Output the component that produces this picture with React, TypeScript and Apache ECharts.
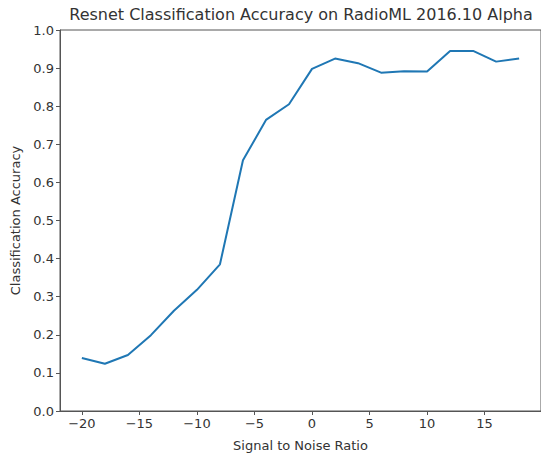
import React, { useEffect, useRef } from "react";
import * as echarts from "echarts";

const snr = [-20, -18, -16, -14, -12, -10, -8, -6, -4, -2, 0, 2, 4, 6, 8, 10, 12, 14, 16, 18];
const accuracy = [0.139, 0.124, 0.147, 0.199, 0.263, 0.318, 0.385, 0.658, 0.764, 0.805, 0.898, 0.925, 0.913, 0.888, 0.892, 0.891, 0.945, 0.945, 0.917, 0.925];
const xTicks = [-20, -15, -10, -5, 0, 5, 10, 15];
const titleText = "Resnet Classification Accuracy on RadioML 2016.10 Alpha";
const xName = "Signal to Noise Ratio";
const yName = "Classification Accuracy";

const FONT = "DejaVu Sans";
const TXT = "#333333";
const SPINE = "#555555";

export default function App() {
  const ref = useRef<HTMLDivElement>(null);
  useEffect(() => {
    if (!ref.current) return;
    const chart = echarts.init(ref.current, undefined, { renderer: "svg" });
    const fmtMinus = (v: number) => (v < 0 ? "\u2212" + Math.abs(v) : String(v));
    chart.setOption({
      animation: false,
      backgroundColor: "#ffffff",
      grid: {
        left: 60,
        top: 30,
        width: 485,
        height: 381,
        show: true,
        borderColor: SPINE,
        borderWidth: 1,
        backgroundColor: "transparent",
      },
      graphic: [
        {
          type: "text",
          x: 301,
          y: 14,
          style: {
            text: titleText,
            fontFamily: FONT,
            fontSize: 16,
            fill: TXT,
            textAlign: "center",
            textVerticalAlign: "middle",
          },
        },
      ],
      xAxis: {
        type: "value",
        min: -21.9,
        max: 19.9,
        name: xName,
        nameLocation: "middle",
        nameGap: 28,
        nameTextStyle: { fontFamily: FONT, fontSize: 13, color: TXT },
        axisLine: { show: true, onZero: false, lineStyle: { color: SPINE, width: 1 } },
        axisTick: { show: true, length: 4, lineStyle: { color: SPINE }, customValues: xTicks },
        axisLabel: {
          fontFamily: FONT,
          fontSize: 13,
          color: TXT,
          margin: 6,
          customValues: xTicks,
          formatter: (v: number) => fmtMinus(v),
        },
        splitLine: { show: false },
      },
      yAxis: {
        type: "value",
        min: 0,
        max: 1,
        interval: 0.1,
        name: yName,
        nameLocation: "middle",
        nameGap: 38,
        nameTextStyle: { fontFamily: FONT, fontSize: 13, color: TXT },
        axisLine: { show: true, onZero: false, lineStyle: { color: SPINE, width: 1 } },
        axisTick: { show: true, length: 4, lineStyle: { color: SPINE } },
        axisLabel: {
          fontFamily: FONT,
          fontSize: 13,
          color: TXT,
          margin: 6,
          formatter: (v: number) => v.toFixed(1),
        },
        splitLine: { show: false },
      },
      series: [
        {
          type: "line",
          data: snr.map((s, i) => [s, accuracy[i]]),
          showSymbol: false,
          symbol: "none",
          lineStyle: { color: "#1f77b4", width: 2 },
          clip: true,
        },
      ],
    });
    return () => chart.dispose();
  }, []);
  return (
    <div
      ref={ref}
      style={{ position: "fixed", left: 0, top: 0, width: 541, height: 461, background: "#fff" }}
    />
  );
}
